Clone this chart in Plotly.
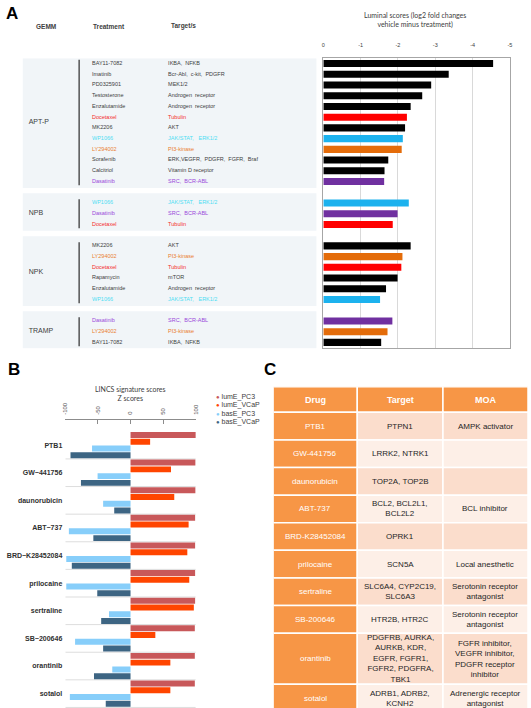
import plotly.graph_objects as go

W, H = 531, 708
FONT = "Liberation Sans"

# ---------------- Panel A data ----------------
gemm_groups = ["APT-P", "NPB", "NPK", "TRAMP"]

treat_apt = ["BAY11-7082", "Imatinib", "PD0325901", "Testosterone", "Enzalutamide", "Docetaxel",
             "MK2206", "WP1066", "LY294002", "Sorafenib", "Calcitriol", "Dasatinib"]
target_apt = ["IKBA,  NFKB", "Bcr-Abl,  c-kit,  PDGFR", "MEK1/2", "Androgen  receptor",
              "Androgen  receptor", "Tubulin", "AKT", "JAK/STAT,   ERK1/2", "PI3-kinase",
              "ERK,VEGFR,  PDGFR,  FGFR,  Braf", "Vitamin D receptor", "SRC,  BCR-ABL"]
score_apt = [-4.55, -3.36, -2.89, -2.65, -2.34, -2.24, -2.19, -2.13, -2.10, -1.74, -1.64, -1.63]
class_apt = ["other", "other", "other", "other", "other", "tubulin", "other", "jak", "pi3k",
             "other", "other", "src"]

treat_npb = ["WP1066", "Dasatinib", "Docetaxel"]
target_npb = ["JAK/STAT,   ERK1/2", "SRC,  BCR-ABL", "Tubulin"]
score_npb = [-2.29, -1.99, -1.86]
class_npb = ["jak", "src", "tubulin"]

treat_npk = ["MK2206", "LY294002", "Docetaxel", "Rapamycin", "Enzalutamide", "WP1066"]
target_npk = ["AKT", "PI3-kinase", "Tubulin", "mTOR", "Androgen  receptor", "JAK/STAT,   ERK1/2"]
score_npk = [-2.34, -2.12, -2.09, -1.99, -1.68, -1.52]
class_npk = ["other", "pi3k", "tubulin", "other", "other", "jak"]

treat_tramp = ["Dasatinib", "LY294002", "BAY11-7082"]
target_tramp = ["SRC,  BCR-ABL", "PI3-kinase", "IKBA,  NFKB"]
score_tramp = [-1.85, -1.72, -1.55]
class_tramp = ["src", "pi3k", "other"]

a_ticks = [0, -1, -2, -3, -4, -5]
a_ticktext = ["0", "-1", "-2", "-3", "-4", "-5"]

bar_colors = {"other": "#000000", "tubulin": "#FF0000", "jak": "#1CB2EE",
              "pi3k": "#E46C0A", "src": "#7030A0"}
text_colors = {"other": "#404040", "tubulin": "#F42A2A", "jak": "#4FDDF3",
               "pi3k": "#EA7E30", "src": "#9A48DA"}

# ---------------- Panel B data ----------------
b_drugs = ["PTB1", "GW\u2212441756", "daunorubicin", "ABT\u2212737", "BRD\u2212K28452084",
           "prilocaine", "sertraline", "SB\u2212200646", "orantinib", "sotalol"]
lumE_PC3 = [100, 99.5, 99.5, 99, 99, 99, 99, 98.5, 98.5, 98.5]
lumE_VCaP = [30, 62, 67, 89, 87, 90, 97, 38, 61, 61]
basE_PC3 = [-59, -50.5, -42, -94.5, -98.5, -98.5, -33, -85, -28, -93]
basE_VCaP = [-92, -76, -25, -57, -90, -51, -45, -42, -56, -38]
b_series = ["lumE_PC3", "lumE_VCaP", "basE_PC3", "basE_VCaP"]
b_colors = ["#C8585A", "#FF4500", "#87CEFA", "#3D6583"]
b_ticks = [-100, -50, 0, 50, 100]
b_ticktext = ["-100", "-50", "0", "50", "100"]

# ---------------- Panel C data ----------------
c_header = ["Drug", "Target", "MOA"]
c_drug = ["PTB1", "GW-441756", "daunorubicin", "ABT-737", "BRD-K28452084", "prilocaine",
          "sertraline", "SB-200646", "orantinib", "sotalol"]
c_target = ["PTPN1", "LRRK2, NTRK1", "TOP2A, TOP2B", "BCL2, BCL2L1,<br>BCL2L2", "OPRK1", "SCN5A",
            "SLC6A4, CYP2C19,<br>SLC6A3", "HTR2B, HTR2C",
            "PDGFRB, AURKA,<br>AURKB, KDR,<br>EGFR, FGFR1,<br>FGFR2, PDGFRA,<br>TBK1",
            "ADRB1, ADRB2,<br>KCNH2"]
c_moa = ["AMPK activator", "", "", "BCL inhibitor", "", "Local anesthetic",
         "Serotonin receptor<br>antagonist", "Serotonin receptor<br>antagonist",
         "FGFR inhibitor,<br>VEGFR inhibitor,<br>PDGFR receptor<br>inhibitor",
         "Adrenergic receptor<br>antagonist"]


def py(p):
    return 1 - p / H


fig = go.Figure()
shapes = []
annotations = []

# ---------------- Panel A ----------------
groups = [
    (gemm_groups[0], treat_apt, target_apt, score_apt, class_apt),
    (gemm_groups[1], treat_npb, target_npb, score_npb, class_npb),
    (gemm_groups[2], treat_npk, target_npk, score_npk, class_npk),
    (gemm_groups[3], treat_tramp, target_tramp, score_tramp, class_tramp),
]
rows_y, rows_treat, rows_target, rows_score, rows_class = [], [], [], [], []
spans = []
pos = 0
for name, tr, tg, sc, cl in groups:
    first = pos
    for i in range(len(tr)):
        rows_y.append(pos)
        rows_treat.append(tr[i])
        rows_target.append(tg[i])
        rows_score.append(sc[i])
        rows_class.append(cl[i])
        pos += 1
    spans.append((name, first, pos - 1))
    pos += 1

fig.add_trace(go.Bar(x=rows_score, y=rows_y, orientation="h", width=0.66,
                     marker=dict(color=[bar_colors[c] for c in rows_class], line=dict(width=0)),
                     xaxis="x", yaxis="y", showlegend=False))

fig.add_trace(go.Scatter(x=[90] * len(rows_y), y=rows_y, mode="text", text=rows_treat,
                         textposition="middle right",
                         textfont=dict(size=5.5, family=FONT,
                                       color=[text_colors[c] for c in rows_class]),
                         xaxis="x2", yaxis="y", showlegend=False, hoverinfo="skip"))
fig.add_trace(go.Scatter(x=[167] * len(rows_y), y=rows_y, mode="text", text=rows_target,
                         textposition="middle right",
                         textfont=dict(size=5.5, family=FONT,
                                       color=[text_colors[c] for c in rows_class]),
                         xaxis="x2", yaxis="y", showlegend=False, hoverinfo="skip"))
fig.add_trace(go.Scatter(x=[26] * len(spans), y=[(f + l) / 2 for _, f, l in spans],
                         mode="text", text=[s[0] for s in spans], textposition="middle right",
                         textfont=dict(size=7, family=FONT, color="#404040"),
                         xaxis="x2", yaxis="y", showlegend=False, hoverinfo="skip"))

for name, f, l in spans:
    shapes.append(dict(type="rect", xref="x2", yref="y", x0=20, x1=317,
                       y0=max(f - 0.9, -0.5), y1=l + 0.6, fillcolor="#F1F5F8",
                       line=dict(width=0), layer="below"))
    shapes.append(dict(type="line", xref="x2", yref="y", x0=77, x1=77,
                       y0=f - 0.35, y1=l + 0.35, line=dict(color="#3A3A3A", width=1.3)))

for txt, x in [("GEMM", 31), ("Treatment", 89), ("Target/s", 168)]:
    annotations.append(dict(text="<b>" + txt + "</b>", xref="x2", yref="paper", x=x, y=py(26),
                            xanchor="left", yanchor="middle", showarrow=False,
                            font=dict(size=6.5, color="#404040", family=FONT)))

annotations.append(dict(text="Luminal scores (log2 fold changes<br>vehicle minus treatment)",
                        xref="paper", yref="paper", x=417 / W, y=py(20.5), xanchor="center",
                        yanchor="middle", showarrow=False,
                        font=dict(size=7, color="#404040", family="Lato")))

# ---------------- Panel B ----------------
b_vals = [lumE_PC3, lumE_VCaP, basE_PC3, basE_VCaP]
for name, vals, col in zip(b_series, b_vals, b_colors):
    fig.add_trace(go.Bar(x=vals, y=list(range(len(b_drugs))), orientation="h", name=name,
                         marker=dict(color=col, line=dict(width=0)),
                         xaxis="x3", yaxis="y3", showlegend=False))

for i in range(len(b_drugs)):
    shapes.append(dict(type="line", xref="x3", yref="y3", x0=-100, x1=100,
                       y0=i + 0.5, y1=i + 0.5, line=dict(color="#DDDDDD", width=1),
                       layer="below"))

annotations.append(dict(text="LINCS signature scores<br>Z scores", xref="x3", yref="paper",
                        x=0, y=py(393.5), xanchor="center", yanchor="middle", showarrow=False,
                        font=dict(size=7, color="#404040", family="Lato")))

for k, (name, col) in enumerate(zip(b_series, b_colors)):
    annotations.append(dict(
        text='<span style="color:%s;font-size:6px">\u25CF</span> %s' % (col, name),
        xref="paper", yref="paper", x=213 / W, y=py(397 + 8.3 * k), xanchor="left",
        yanchor="middle", showarrow=False, font=dict(size=7, color="#404040", family=FONT)))

# ---------------- Panel C ----------------
col_w = [85, 86.7, 86]
header_h = 0.93
rows_lines = [max(1, t.count("<br>") + 1, m.count("<br>") + 1) for t, m in zip(c_target, c_moa)]
row_h = [max(1.0, 0.37 * n) for n in rows_lines]
x_edges = [0]
for w_ in col_w:
    x_edges.append(x_edges[-1] + w_)

ORANGE = "#F79646"
PINK = ["#FBDDCC", "#FDEFE7"]

for j, htxt in enumerate(c_header):
    shapes.append(dict(type="rect", xref="x4", yref="y4", x0=x_edges[j], x1=x_edges[j + 1],
                       y0=0, y1=header_h, fillcolor=ORANGE, line=dict(color="white", width=1.5)))
    annotations.append(dict(text="<b>" + htxt + "</b>", xref="x4", yref="y4",
                            x=(x_edges[j] + x_edges[j + 1]) / 2, y=header_h / 2,
                            showarrow=False, font=dict(size=9, color="white", family=FONT)))

ytop = header_h
for i in range(len(c_drug)):
    ybot = ytop + row_h[i]
    cells = [c_drug[i], c_target[i], c_moa[i]]
    fills = [ORANGE, PINK[i % 2], PINK[i % 2]]
    for j in range(3):
        shapes.append(dict(type="rect", xref="x4", yref="y4", x0=x_edges[j], x1=x_edges[j + 1],
                           y0=ytop, y1=ybot, fillcolor=fills[j],
                           line=dict(color="white", width=1.5)))
        if cells[j]:
            annotations.append(dict(text=cells[j], xref="x4", yref="y4",
                                    x=(x_edges[j] + x_edges[j + 1]) / 2, y=(ytop + ybot) / 2,
                                    showarrow=False, align="center",
                                    font=dict(size=8, family=FONT,
                                              color="white" if j == 0 else "#262626")))
    ytop = ybot

table_px_h = H - 386.7
units_total = table_px_h / 27.6

# panel letters
for letter, x, y in [("A", 1, 14), ("B", 3, 369.5), ("C", 262, 369.5)]:
    annotations.append(dict(text="<b>" + letter + "</b>", xref="paper", yref="paper",
                            x=x / W, y=py(y), xanchor="left", yanchor="middle", showarrow=False,
                            font=dict(size=17, color="#000000", family=FONT)))

fig.update_layout(
    width=W, height=H, margin=dict(l=0, r=0, t=0, b=0),
    paper_bgcolor="white", plot_bgcolor="rgba(0,0,0,0)",
    font=dict(family=FONT, color="#404040"),
    barmode="group", bargap=0.02, bargroupgap=0.12,
    showlegend=False,
    xaxis=dict(domain=[324 / W, 512.7 / W], range=[0, -5], side="top", anchor="y",
               tickvals=a_ticks, ticktext=a_ticktext, tickfont=dict(size=5.5, color="#404040"),
               showgrid=True, gridcolor="#D9D9D9", gridwidth=1, zeroline=False,
               showline=True, mirror=True, linecolor="#A6A6A6", linewidth=1.2,
               ticks="", ticklabelstandoff=8, fixedrange=True),
    yaxis=dict(domain=[py(348.3), py(58.2)], range=[26.55, -0.5], anchor="x",
               showticklabels=False, showgrid=False, zeroline=False, ticks="",
               showline=True, mirror=True, linecolor="#A6A6A6", linewidth=1.2, fixedrange=True),
    xaxis2=dict(domain=[0, 0.6], range=[0, 0.6 * W], anchor="y", visible=False, fixedrange=True),
    xaxis3=dict(domain=[63 / W, 195 / W], range=[-100, 100], side="top", anchor="y3",
                tickvals=b_ticks, ticktext=b_ticktext, tickangle=-90,
                tickfont=dict(size=6, color="#555555"), showline=True, linecolor="#8C8C8C",
                linewidth=1, ticks="inside", ticklen=4, tickcolor="#8C8C8C", showgrid=False,
                zeroline=False, ticklabelstandoff=3, fixedrange=True),
    yaxis3=dict(domain=[0, py(420)], range=[9.52, -0.91], anchor="x3",
                tickvals=list(range(len(b_drugs))), ticktext=b_drugs,
                tickfont=dict(size=7, color="#303030", weight="bold"),
                showgrid=False, zeroline=False, showline=False, ticks="", ticklabelstandoff=2,
                fixedrange=True),
    xaxis4=dict(domain=[273.3 / W, 1], range=[0, sum(col_w)], anchor="y4", visible=False,
                fixedrange=True),
    yaxis4=dict(domain=[0, py(386.7)], range=[units_total, 0], anchor="x4", visible=False,
                fixedrange=True),
    shapes=shapes, annotations=annotations,
)

fig.write_html("out.html")
